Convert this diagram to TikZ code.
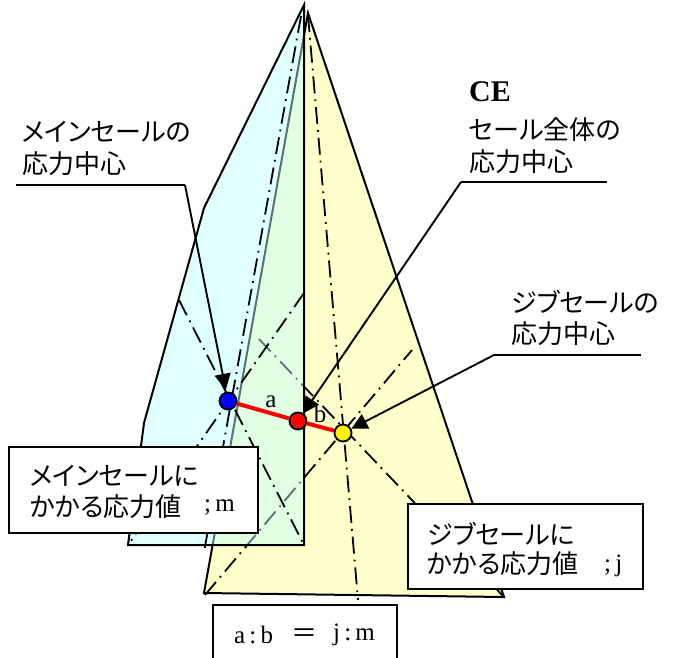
\documentclass[tikz,border=0pt]{standalone}
\usepackage{fontspec}
\setmainfont{Liberation Serif}
\newfontfamily\jp[RawFeature=+palt]{Noto Sans CJK JP}
\usetikzlibrary{arrows.meta}
\definecolor{mainfill}{HTML}{BBFFFF}
\definecolor{jibfill}{HTML}{FFFFCC}
\tikzset{
  edge/.style={draw=black,line width=2pt,line join=miter},
  median/.style={black,line width=1.8pt,dash pattern=on 17pt off 6pt on 1.8pt off 6pt},
  dotmark/.style={circle,draw=black,line width=1.8pt,minimum size=17pt,inner sep=0pt},
  callout/.style={black,line width=1.9pt,-{Triangle[length=16pt,width=16pt]}},
  leader/.style={black,line width=1.9pt},
  infobox/.style={draw=black,fill=white,line width=2pt,anchor=north west,inner sep=0pt},
  jtext/.style={anchor=west,inner sep=0pt,font=\fontsize{26}{28}\jp,text=black},
  ltext/.style={inner sep=0pt,font=\fontsize{25}{26}\selectfont,text=black}
}
\begin{document}
\begin{tikzpicture}[x=1pt,y=-1pt]
\useasboundingbox (0,0) rectangle (675,657);
% jib
\fill[jibfill] (308,13) -- (504,597) -- (204,593) -- cycle;
\draw[median] (308,15) -- (358,600);
\draw[median] (205,595) -- (412,350);
\draw[median] (504,597) -- (257,337);
\draw[edge] (308,13) -- (504,597) -- (204,593) -- cycle;
% main
\path[fill=mainfill,fill opacity=.45] (304,5) -- (204,208) -- (144,423) -- (128,545) -- (304,545) -- cycle;
\draw[edge] (304,5) -- (204,208) -- (144,423) -- (128,545) -- (304,545) -- cycle;
\draw[median] (301,16) -- (204,552);
\draw[median] (304,293) -- (128,545);
\draw[median] (179,300) -- (304,545);
% ratio box
\draw[line width=2pt] (213,660) -- (213,605) -- (397,605) -- (397,660);
% force points
\node[dotmark,fill=blue] (mainpt) at (228,401) {};
\node[dotmark,fill=red] (cept) at (298,421) {};
\node[dotmark,fill=yellow] (jibpt) at (343,433) {};
\draw[red,line width=4pt] (mainpt) -- (cept);
\draw[red,line width=4pt] (cept) -- (jibpt);
\node[ltext] (la) at (271,402) {a};
\node[ltext] (lb) at (320,414) {b};
% labels with leaders
\coordinate (m0) at (16,185); \coordinate (m1) at (185,185);
\draw[leader] (m0) -- (m1);
\draw[callout,shorten >=2pt] (m1) -- (mainpt);
\coordinate (c0) at (607,182); \coordinate (c1) at (461,182);
\draw[leader] (c0) -- (c1);
\draw[callout] (c1) -- (cept);
\coordinate (j0) at (641,355); \coordinate (j1) at (494,355);
\draw[leader] (j0) -- (j1);
\draw[callout] (j1) -- (jibpt);
\node[jtext] (t1) at (22,132) {メインセールの};
\node[jtext] (t2) at (22,164) {応力中心};
\node[anchor=west,inner sep=0pt,font=\fontsize{30}{30}\selectfont\bfseries] (t3) at (469,92) {CE};
\node[jtext] (t4) at (469,130) {セール全体の};
\node[jtext] (t5) at (469,162) {応力中心};
\node[jtext] (t6) at (511,302) {ジブセールの};
\node[jtext] (t7) at (511,334) {応力中心};
% value boxes
\node[infobox,minimum width=249pt,minimum height=86pt] (bm) at (8,446) {};
\node[jtext] (t8) at (30,476) {メインセールに};
\node[jtext] (t9) at (30,507) {かかる応力値};
\node[ltext,anchor=west] (t10) at (204,508) {;\,m};
\node[infobox,minimum width=235pt,minimum height=85pt] (bj) at (407,503) {};
\node[jtext] (t11) at (427,534) {ジブセールに};
\node[jtext] (t12) at (427,564) {かかる応力値};
\node[ltext,anchor=west] (t13) at (604,566) {;\,j};
\node[ltext,anchor=west] (t14) at (234,635) {a\,:\,b};
\node[jtext] (t15) at (291,636) {＝};
\node[ltext,anchor=west] (t16) at (333,635) {j\,:\,m};
\end{tikzpicture}
\end{document}
